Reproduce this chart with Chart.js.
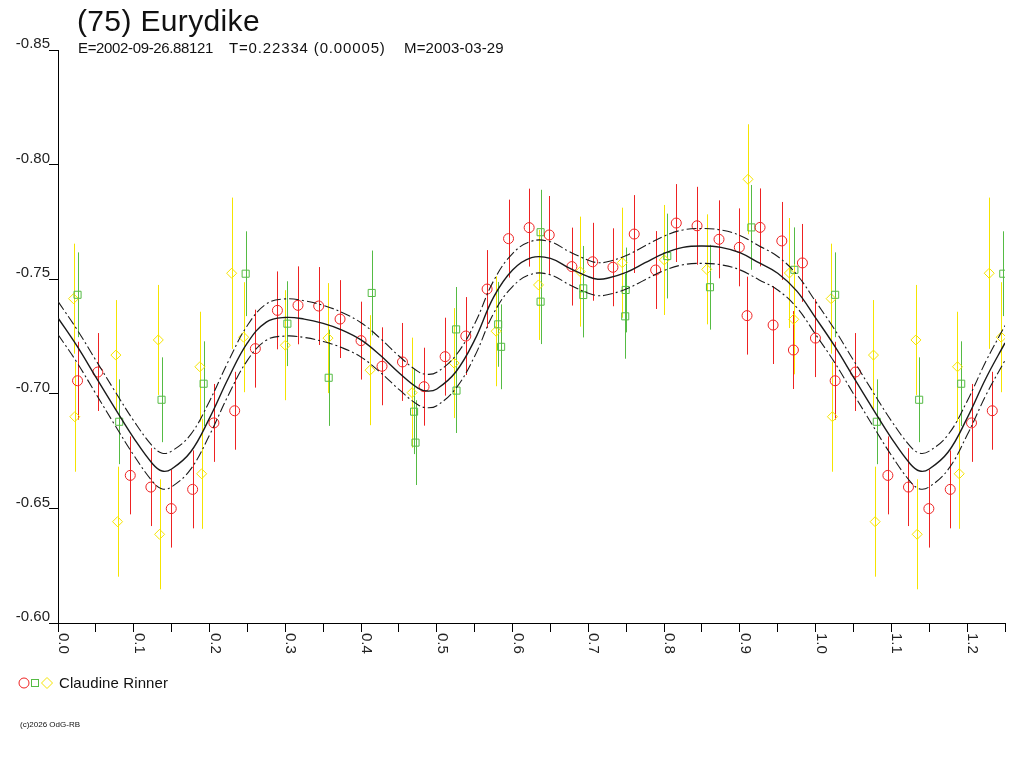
<!DOCTYPE html>
<html>
<head>
<meta charset="utf-8">
<title>(75) Eurydike</title>
<script src="https://cdn.jsdelivr.net/npm/chart.js@4.4.1/dist/chart.umd.min.js"></script>
<style>
  body { margin: 0; background: #fff; overflow: hidden; }
  #wrap { position: relative; width: 1024px; height: 768px; font-family: "Liberation Sans", Arial, sans-serif; color: #111; }
  #wrap canvas { position: absolute; left: 0; top: 0; }
  .txt { position: absolute; line-height: 1; white-space: pre; }
</style>
</head>
<body>
<div id="wrap">
  <canvas id="lightcurve" width="1024" height="768"></canvas>
  <div class="txt" style="left:77px; top:6px; font-size:30px; letter-spacing:0.35px;">(75) Eurydike</div>
  <div class="txt" style="left:78px; top:40px; font-size:15px; letter-spacing:-0.35px;">E=2002-09-26.88121</div>
  <div class="txt" style="left:229px; top:40px; font-size:15px; letter-spacing:0.85px;">T=0.22334 (0.00005)</div>
  <div class="txt" style="left:404px; top:40px; font-size:15px; letter-spacing:0.15px;">M=2003-03-29</div>
  <svg style="position:absolute; left:0; top:670px;" width="60" height="26">
    <circle cx="24" cy="13" r="5" fill="none" stroke="#ee2222" stroke-width="1"/>
    <rect x="31.5" y="9.5" width="7" height="7" fill="none" stroke="#55bb44" stroke-width="1"/>
    <path d="M41.5 13 L47 7.5 L52.5 13 L47 18.5 Z" fill="none" stroke="#f5e400" stroke-width="1"/>
  </svg>
  <div class="txt" style="left:59px; top:675px; font-size:15px; letter-spacing:0.1px;">Claudine Rinner</div>
  <div class="txt" style="left:20px; top:721px; font-size:8px;">(c)2026 OdG-RB</div>
</div>

<script>
// ===============================
// DATA (phase, magnitude)
// ===============================

// fitted curve and its uncertainty band
const fitPhase = [0, 0.025, 0.05, 0.075, 0.1, 0.125, 0.1375, 0.15, 0.175, 0.2,
    0.225, 0.25, 0.275, 0.3, 0.325, 0.35, 0.375, 0.4, 0.425, 0.45,
    0.475, 0.4875, 0.5, 0.525, 0.55, 0.575, 0.6, 0.625, 0.65, 0.675,
    0.7, 0.7125, 0.725, 0.75, 0.775, 0.8, 0.825, 0.85, 0.875, 0.9,
    0.925, 0.95, 0.975, 1.0, 1.025, 1.05, 1.075, 1.1, 1.125, 1.1375,
    1.15, 1.175, 1.2, 1.225, 1.25];

const fitMag = [-0.7331, -0.7209, -0.7073, -0.6938, -0.6807, -0.6694, -0.6663, -0.6672, -0.6746, -0.6894,
    -0.7069, -0.7222, -0.7313, -0.7333, -0.7326, -0.7307, -0.7278, -0.7235, -0.7169, -0.7092,
    -0.7025, -0.7012, -0.7021, -0.7095, -0.7235, -0.7422, -0.7540, -0.7594, -0.7591, -0.7548,
    -0.7511, -0.7500, -0.7504, -0.7530, -0.7572, -0.7613, -0.7639, -0.7645, -0.7639, -0.7616,
    -0.7572, -0.7526, -0.7449, -0.7331, -0.7209, -0.7073, -0.6938, -0.6807, -0.6694, -0.6663,
    -0.6672, -0.6746, -0.6894, -0.7069, -0.7222];

const fitUpper = [-0.7403, -0.7281, -0.7146, -0.7012, -0.6882, -0.6771, -0.6741, -0.6750, -0.6822, -0.6968,
    -0.7143, -0.7298, -0.7392, -0.7414, -0.7406, -0.7386, -0.7355, -0.7310, -0.7243, -0.7165,
    -0.7098, -0.7085, -0.7094, -0.7167, -0.7306, -0.7493, -0.7612, -0.7666, -0.7663, -0.7620,
    -0.7583, -0.7572, -0.7576, -0.7603, -0.7646, -0.7688, -0.7715, -0.7721, -0.7715, -0.7691,
    -0.7646, -0.7599, -0.7521, -0.7403, -0.7281, -0.7146, -0.7012, -0.6882, -0.6771, -0.6741,
    -0.6750, -0.6822, -0.6968, -0.7143, -0.7298];

const fitLower = [-0.7259, -0.7137, -0.7000, -0.6864, -0.6732, -0.6617, -0.6585, -0.6594, -0.6670, -0.6820,
    -0.6995, -0.7146, -0.7234, -0.7252, -0.7246, -0.7228, -0.7201, -0.7160, -0.7095, -0.7019,
    -0.6952, -0.6939, -0.6948, -0.7023, -0.7164, -0.7351, -0.7468, -0.7522, -0.7519, -0.7476,
    -0.7439, -0.7428, -0.7432, -0.7457, -0.7498, -0.7538, -0.7563, -0.7569, -0.7563, -0.7541,
    -0.7498, -0.7453, -0.7377, -0.7259, -0.7137, -0.7000, -0.6864, -0.6732, -0.6617, -0.6585,
    -0.6594, -0.6670, -0.6820, -0.6995, -0.7146];

// session 1 (red circles)
const redPhase = [0.0258, 0.0526, 0.0954, 0.1226, 0.1495, 0.1777, 0.2058, 0.2332, 0.2605, 0.2896,
    0.3168, 0.3441, 0.3723, 0.4000, 0.4277, 0.4547, 0.4832, 0.5110, 0.5383, 0.5664,
    0.5947, 0.6219, 0.6484, 0.6783, 0.7057, 0.7325, 0.7606, 0.7889, 0.8161, 0.8435,
    0.8725, 0.8993, 0.9095, 0.9267, 0.9439, 0.9554, 0.9707, 0.9826, 0.9998];
const redMag = [-0.7057, -0.7095, -0.6644, -0.6593, -0.6499, -0.6583, -0.6873, -0.6926, -0.7197, -0.7364,
    -0.7386, -0.7383, -0.7326, -0.7232, -0.7120, -0.7139, -0.7031, -0.7162, -0.7252, -0.7457,
    -0.7677, -0.7725, -0.7693, -0.7555, -0.7576, -0.7552, -0.7697, -0.7540, -0.7745, -0.7733,
    -0.7674, -0.7639, -0.7341, -0.7726, -0.7300, -0.7667, -0.7191, -0.7571, -0.7243];
const redErr = redPhase.map(() => 0.017);

// session 2 (green squares)
const greenPhase = [0.0258, 0.0808, 0.1367, 0.1922, 0.2477, 0.3028, 0.3573, 0.4141, 0.4700, 0.4719,
    0.5255, 0.5260, 0.5810, 0.5849, 0.6370, 0.6370, 0.6933, 0.6933, 0.7493, 0.7487,
    0.8042, 0.8606, 0.9152, 0.9720];
const greenMag = [-0.7432, -0.6878, -0.6974, -0.7044, -0.7524, -0.7306, -0.7070, -0.7440, -0.6922, -0.6787,
    -0.7281, -0.7014, -0.7303, -0.7205, -0.7705, -0.7402, -0.7460, -0.7431, -0.7453, -0.7338,
    -0.7601, -0.7465, -0.7726, -0.7541];
const greenErr = [0.0185, 0.0185, 0.0185, 0.0185, 0.0185, 0.0185, 0.021, 0.0185, 0.0185, 0.0185,
    0.0185, 0.0185, 0.0185, 0.0185, 0.0185, 0.0185, 0.0185, 0.0185, 0.0185, 0.0185,
    0.0185, 0.0185, 0.0185, 0.0185];

// session 3 (yellow diamonds)
const yellowPhase = [0.0205, 0.0222, 0.0764, 0.0786, 0.1324, 0.1341, 0.1873, 0.1896, 0.2292, 0.2450,
    0.3001, 0.3564, 0.4119, 0.4674, 0.5229, 0.5783, 0.6343, 0.6893, 0.7448, 0.8003,
    0.8563, 0.9108, 0.9654, 0.9712];
const yellowMag = [-0.7415, -0.6900, -0.7169, -0.6442, -0.7235, -0.6387, -0.7118, -0.6651, -0.7526, -0.7247,
    -0.7212, -0.7243, -0.7103, -0.7005, -0.7134, -0.7273, -0.7475, -0.7533, -0.7572, -0.7584,
    -0.7543, -0.7936, -0.7527, -0.7325];
const yellowErr = [0.024, 0.024, 0.024, 0.024, 0.024, 0.024, 0.024, 0.024, 0.033, 0.024,
    0.024, 0.024, 0.024, 0.024, 0.024, 0.024, 0.024, 0.024, 0.024, 0.024,
    0.024, 0.024, 0.024, 0.024];

const xTickLabels = ["0.0", "0.1", "0.2", "0.3", "0.4", "0.5", "0.6", "0.7", "0.8", "0.9", "1.0", "1.1", "1.2"];

const FONT = "'Liberation Sans', Arial, sans-serif";


// ===============================
// HELPERS
// ===============================

// the phase plot shows the first quarter of the cycle again after 1.0
function foldPoints(phase, mag, err) {

    let puntos = [];
    let errores = [];

    phase.forEach((p, i) => {
        puntos.push({ x: p, y: mag[i] });
        errores.push(err[i]);
    });

    phase.forEach((p, i) => {
        if (p < 0.25) {
            puntos.push({ x: p + 1, y: mag[i] });
            errores.push(err[i]);
        }
    });

    return { puntos, errores };
}

function curve(values) {
    return fitPhase.map((p, i) => ({ x: p, y: values[i] }));
}


// vertical error bars, drawn through the scales
const errorBars = {
    id: "errorBars",
    beforeDatasetsDraw(chart) {
        const { ctx, scales } = chart;
        ctx.save();
        ctx.lineWidth = 1;
        chart.data.datasets.forEach(ds => {
            if (!ds.errors) return;
            ctx.strokeStyle = ds.borderColor;
            ds.data.forEach((pt, i) => {
                const px = Math.round(scales.x.getPixelForValue(pt.x)) + 0.5;
                ctx.beginPath();
                ctx.moveTo(px, scales.y.getPixelForValue(pt.y - ds.errors[i]));
                ctx.lineTo(px, scales.y.getPixelForValue(pt.y + ds.errors[i]));
                ctx.stroke();
            });
        });
        ctx.restore();
    }
};

// x labels read top to bottom, as in the original plot
const xLabels = {
    id: "xLabels",
    afterDraw(chart) {
        const { ctx, scales } = chart;
        ctx.save();
        ctx.fillStyle = "#222";
        ctx.font = "15px " + FONT;
        ctx.textAlign = "left";
        ctx.textBaseline = "alphabetic";
        xTickLabels.forEach(lbl => {
            const px = Math.round(scales.x.getPixelForValue(parseFloat(lbl)));
            ctx.save();
            ctx.translate(px + 1, scales.x.top + 10);
            ctx.rotate(Math.PI / 2);
            ctx.fillText(lbl, 0, 0);
            ctx.restore();
        });
        ctx.restore();
    }
};


// ===============================
// CHART
// ===============================

const red = foldPoints(redPhase, redMag, redErr);
const green = foldPoints(greenPhase, greenMag, greenErr);
const yellow = foldPoints(yellowPhase, yellowMag, yellowErr);

const dashDot = [10, 3, 2, 3];

new Chart(document.getElementById("lightcurve"), {

    type: "scatter",

    data: {
        datasets: [
            {
                label: "fit",
                data: curve(fitMag),
                showLine: true,
                borderColor: "#1a1a1a",
                borderWidth: 1.4,
                pointRadius: 0,
                tension: 0.4
            },
            {
                label: "fit +",
                data: curve(fitUpper),
                showLine: true,
                borderColor: "#1a1a1a",
                borderWidth: 1.1,
                borderDash: dashDot,
                pointRadius: 0,
                tension: 0.4
            },
            {
                label: "fit -",
                data: curve(fitLower),
                showLine: true,
                borderColor: "#1a1a1a",
                borderWidth: 1.1,
                borderDash: dashDot,
                pointRadius: 0,
                tension: 0.4
            },
            {
                label: "Claudine Rinner 1",
                data: red.puntos,
                errors: red.errores,
                pointStyle: "circle",
                pointRadius: 5,
                borderWidth: 1,
                borderColor: "#ee2222",
                backgroundColor: "rgba(0,0,0,0)"
            },
            {
                label: "Claudine Rinner 2",
                data: green.puntos,
                errors: green.errores,
                pointStyle: "rect",
                pointRadius: 5,
                borderWidth: 1,
                borderColor: "#55bb44",
                backgroundColor: "rgba(0,0,0,0)"
            },
            {
                label: "Claudine Rinner 3",
                data: yellow.puntos,
                errors: yellow.errores,
                pointStyle: "rectRot",
                pointRadius: 5,
                borderWidth: 1,
                borderColor: "#f5e400",
                backgroundColor: "rgba(0,0,0,0)"
            }
        ]
    },

    options: {
        responsive: false,
        animation: false,
        layout: {
            padding: { top: 50, right: 19, left: 0, bottom: 0 }
        },
        plugins: {
            legend: { display: false },
            tooltip: { enabled: false }
        },
        scales: {
            x: {
                type: "linear",
                min: 0,
                max: 1.25,
                ticks: { stepSize: 0.05, display: false },
                grid: { drawOnChartArea: false, drawTicks: true, tickLength: 9, color: "#000" },
                border: { color: "#000", width: 1 },
                afterFit: s => { s.height = 145; }
            },
            y: {
                reverse: true,
                min: -0.85,
                max: -0.60,
                ticks: {
                    stepSize: 0.05,
                    callback: v => v.toFixed(2),
                    color: "#222",
                    font: { family: FONT, size: 15 },
                    padding: -1,
                    labelOffset: -6
                },
                grid: { drawOnChartArea: false, drawTicks: true, tickLength: 9, color: "#000" },
                border: { color: "#000", width: 1 },
                afterFit: s => { s.width = 58; }
            }
        }
    },

    plugins: [errorBars, xLabels]

});
</script>
</body>
</html>
